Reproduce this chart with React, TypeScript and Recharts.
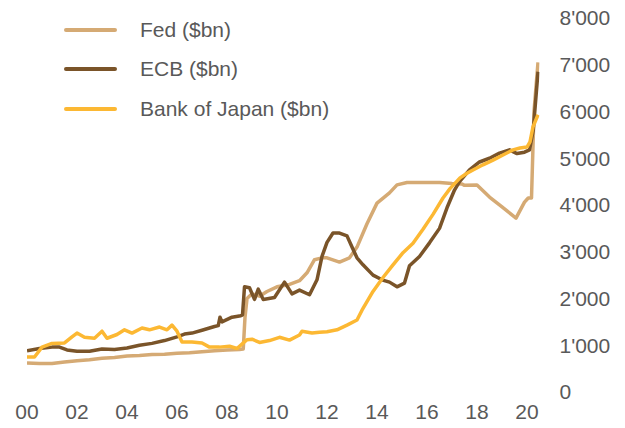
import { LineChart, Line, XAxis, YAxis, Legend } from "recharts";

// [year, $bn]
const fedSeries: [number, number][] = [
  [2000, 620], [2000.5, 610], [2001, 610], [2001.5, 640], [2002, 670], [2002.5, 690],
  [2003, 720], [2003.5, 740], [2004, 770], [2004.5, 780], [2005, 800], [2005.5, 810],
  [2006, 830], [2006.5, 840], [2007, 860], [2007.5, 880], [2008, 900], [2008.5, 910],
  [2008.65, 920], [2008.72, 1600], [2008.8, 2000], [2009, 2100], [2009.3, 2050],
  [2009.6, 2150], [2010, 2250], [2010.5, 2300], [2010.9, 2380], [2011.2, 2550],
  [2011.5, 2830], [2011.8, 2870], [2012, 2870], [2012.5, 2780], [2012.9, 2870],
  [2013.2, 3100], [2013.6, 3600], [2014, 4040], [2014.5, 4260], [2014.8, 4430],
  [2015.2, 4480], [2016, 4480], [2016.5, 4480], [2017, 4460], [2017.4, 4450],
  [2017.5, 4420], [2018, 4430], [2018.5, 4170], [2019, 3960], [2019.56, 3720],
  [2019.9, 4060], [2020.05, 4150], [2020.18, 4150], [2020.28, 6000], [2020.44, 7050],
];

const ecbSeries: [number, number][] = [
  [2000, 880], [2000.5, 930], [2001, 960], [2001.3, 960], [2001.6, 900], [2002, 870],
  [2002.5, 870], [2003, 920], [2003.5, 910], [2004, 940], [2004.5, 1000], [2005, 1040],
  [2005.5, 1100], [2006, 1180], [2006.3, 1240], [2006.6, 1260], [2007, 1320],
  [2007.5, 1400], [2007.65, 1420], [2007.72, 1600], [2007.8, 1500], [2008.2, 1600],
  [2008.55, 1630], [2008.62, 1650], [2008.7, 2250], [2008.9, 2230], [2009.1, 1980],
  [2009.25, 2200], [2009.45, 1980], [2009.9, 2020], [2010.3, 2350], [2010.6, 2100],
  [2010.9, 2180], [2011.3, 2080], [2011.6, 2400], [2011.8, 2900], [2012, 3200],
  [2012.24, 3400], [2012.5, 3400], [2012.8, 3340], [2013, 3100], [2013.2, 2870],
  [2013.44, 2720], [2013.84, 2500], [2014.2, 2400], [2014.5, 2350], [2014.8, 2250],
  [2015.1, 2330], [2015.3, 2700], [2015.7, 2900], [2016.1, 3190], [2016.5, 3500],
  [2016.8, 3940], [2017.1, 4320], [2017.3, 4500], [2017.7, 4750], [2018.1, 4920],
  [2018.5, 5000], [2018.9, 5110], [2019.3, 5180], [2019.6, 5100], [2019.9, 5130],
  [2020.1, 5180], [2020.25, 5600], [2020.44, 6850],
];

const bojSeries: [number, number][] = [
  [2000, 750], [2000.3, 750], [2000.6, 960], [2001, 1040], [2001.5, 1050], [2001.8, 1180],
  [2002, 1260], [2002.3, 1170], [2002.7, 1150], [2003, 1300], [2003.2, 1150],
  [2003.6, 1230], [2003.9, 1330], [2004.2, 1260], [2004.6, 1370], [2004.9, 1330],
  [2005.3, 1390], [2005.6, 1330], [2005.8, 1430], [2006, 1300], [2006.2, 1070],
  [2006.6, 1070], [2007, 1050], [2007.3, 960], [2007.7, 960], [2008.1, 980],
  [2008.4, 930], [2008.8, 1120], [2009, 1130], [2009.3, 1060], [2009.7, 1100],
  [2010.1, 1170], [2010.5, 1110], [2010.9, 1220], [2011, 1300], [2011.4, 1260],
  [2011.7, 1280], [2012, 1290], [2012.4, 1330], [2012.8, 1430], [2013.2, 1540],
  [2013.4, 1750], [2013.84, 2150], [2014.24, 2450], [2014.64, 2720], [2015.04, 2980],
  [2015.44, 3180], [2015.84, 3480], [2016.24, 3800], [2016.64, 4150], [2016.92, 4350],
  [2017.32, 4580], [2017.6, 4680], [2017.84, 4750], [2018.24, 4860], [2018.64, 4960],
  [2019.04, 5070], [2019.44, 5180], [2019.72, 5220], [2020, 5240], [2020.12, 5350],
  [2020.24, 5670], [2020.44, 5930],
];

const yearTicks = [2000, 2002, 2004, 2006, 2008, 2010, 2012, 2014, 2016, 2018, 2020];
const valueTicks = [0, 1000, 2000, 3000, 4000, 5000, 6000, 7000, 8000];

const series = [
  { name: "Fed ($bn)", color: "#D5AA74", points: fedSeries },
  { name: "ECB ($bn)", color: "#7A5429", points: ecbSeries },
  { name: "Bank of Japan ($bn)", color: "#FCB833", points: bojSeries },
];

const FONT = "'Liberation Sans', Arial, Helvetica, sans-serif";
const TEXT = "#595959";

const toRows = (pts: [number, number][]) => pts.map(([t, v]) => ({ t, v }));
const fmtYear = (y: number) => String(y % 100).padStart(2, "0");
const fmtValue = (v: number) =>
  v >= 1000 ? `${Math.floor(v / 1000)}'${String(v % 1000).padStart(3, "0")}` : String(v);

function LegendBox() {
  return (
    <div style={{ fontFamily: FONT }}>
      {series.map((s) => (
        <div key={s.name} style={{ display: "flex", alignItems: "center", height: 39.5 }}>
          <svg width={53} height={6} style={{ marginRight: 23 }}>
            <line x1={2} y1={3} x2={51} y2={3} stroke={s.color} strokeWidth={4} strokeLinecap="round" />
          </svg>
          <span style={{ fontSize: 21, color: TEXT, whiteSpace: "nowrap" }}>{s.name}</span>
        </div>
      ))}
    </div>
  );
}

export default function App() {
  return (
    <div style={{ position: "absolute", left: 0, top: 0, width: 625, height: 428, background: "#fff" }}>
      <LineChart width={625} height={428} margin={{ top: 18, right: 0, bottom: 6, left: 27 }}>
        <XAxis
          dataKey="t"
          type="number"
          domain={[2000, 2020.5]}
          ticks={yearTicks}
          tickFormatter={fmtYear}
          axisLine={false}
          tickLine={false}
          tickMargin={6}
          height={30}
          interval={0}
          allowDataOverflow
          tick={{ fill: TEXT, fontSize: 21, fontFamily: FONT }}
        />
        <YAxis
          orientation="right"
          type="number"
          domain={[0, 8000]}
          ticks={valueTicks}
          tickFormatter={fmtValue}
          axisLine={false}
          tickLine={false}
          tickMargin={14}
          width={85.5}
          interval={0}
          tick={{ fill: TEXT, fontSize: 21, fontFamily: FONT, textAnchor: "start" }}
        />
        <Legend
          layout="vertical"
          align="center"
          verticalAlign="middle"
          content={() => <LegendBox />}
          wrapperStyle={{ left: 64, top: 10, width: 300 }}
        />
        {series.map((s) => (
          <Line
            key={s.name}
            data={toRows(s.points)}
            dataKey="v"
            name={s.name}
            type="linear"
            stroke={s.color}
            strokeWidth={3.5}
            strokeLinejoin="round"
            dot={false}
            activeDot={false}
            isAnimationActive={false}
          />
        ))}
      </LineChart>
    </div>
  );
}
